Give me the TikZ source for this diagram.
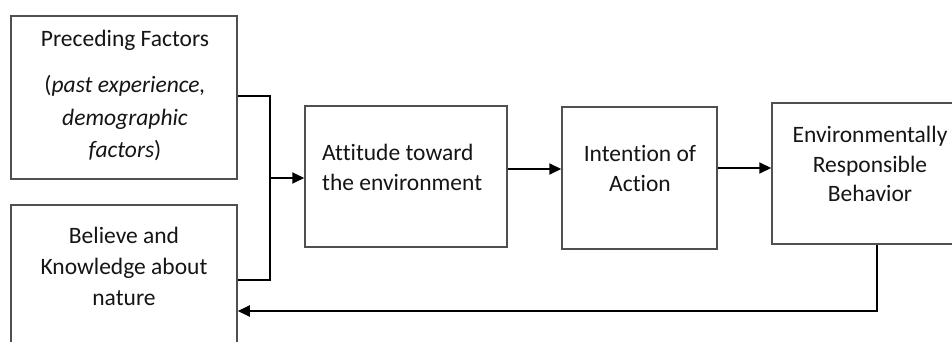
\documentclass[tikz,border=0pt]{standalone}
\usepackage{fontspec}
\setmainfont[Ligatures={NoCommon,NoRare,NoContextual}]{Carlito}
\usetikzlibrary{arrows.meta}
\definecolor{boxgray}{HTML}{505050}
\definecolor{txt}{HTML}{151515}
\begin{document}
\begin{tikzpicture}[x=1pt,y=-1pt,
  box/.style={draw=boxgray,line width=1.5pt,minimum width=#1,inner sep=0pt},
  lbl/.style={text=txt,font=\fontsize{23.5}{30}\selectfont,inner sep=0pt,anchor=base},
  conn/.style={draw=black,line width=1.9pt},
  arr/.style={conn,-{Triangle[length=12pt,width=11pt]}}]
\useasboundingbox (0,0) rectangle (952,342);
\clip (0,0) rectangle (952,342);
\fill[white] (0,0) rectangle (952,342);
% boxes
\node[box=226pt,minimum height=163pt] (b1) at (124,97.5) {};
\node[box=226pt,minimum height=175pt] (b2) at (124,292.5) {};
\node[box=202pt,minimum height=141pt] (b3) at (406,176.5) {};
\node[box=155pt,minimum height=142pt] (b4) at (639.5,178) {};
\node[box=196pt,minimum height=141pt] (b5) at (870,173.5) {};
% texts
\node[lbl] (t1a) at (125,46.5) {Preceding Factors};
\node[lbl] (t1b) at (125,93) {(\textit{past experience,}};
\node[lbl] (t1c) at (125,125) {\textit{demographic}};
\node[lbl] (t1d) at (125,157) {\textit{factors})};
\node[lbl] (t2a) at (124,243) {Believe and};
\node[lbl] (t2b) at (124,274) {Knowledge about};
\node[lbl] (t2c) at (124,305) {nature};
\node[lbl,anchor=base west] (t3a) at (322,160) {Attitude toward};
\node[lbl,anchor=base west] (t3b) at (322,190) {the environment};
\node[lbl] (t4a) at (640,161) {Intention of};
\node[lbl] (t4b) at (640,191) {Action};
\node[lbl] (t5a) at (870,142) {Environmentally};
\node[lbl] (t5b) at (870,172) {Responsible};
\node[lbl] (t5c) at (870,201) {Behavior};
% connectors
\coordinate (j) at (270,178);
\draw[conn] (b1.east |- 0,96) -- (270,96) -- (270,280) -- (b2.east |- 0,280);
\draw[arr] (j) -- (b3.west |- j);
\draw[arr] (b3.east |- 0,169) -- (b4.west |- 0,169);
\draw[arr] (b4.east |- 0,168) -- (b5.west |- 0,168);
\coordinate (fb) at (877,311);
\draw[arr] (b5.south -| fb) -- (fb) -- (b2.east |- fb);
\end{tikzpicture}
\end{document}
